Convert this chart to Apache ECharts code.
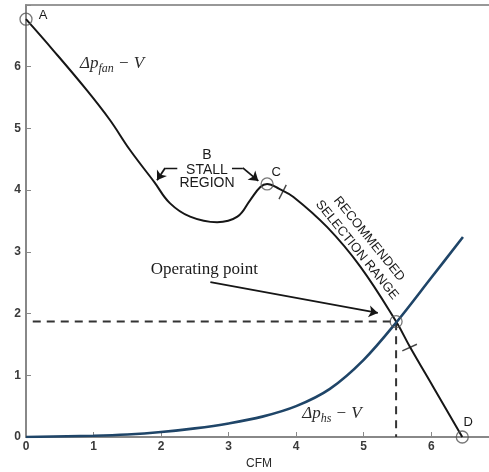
<!DOCTYPE html>
<html>
<head>
<meta charset="utf-8">
<script src="https://cdn.jsdelivr.net/npm/echarts@6/dist/echarts.min.js"></script>
<style>
html, body { margin: 0; padding: 0; background: #fff; }
#chart { width: 489px; height: 472px; }
</style>
</head>
<body>
<div id="chart"></div>
<script>
// fan curve (dp_fan - V)
const fanX = [0, 0.4, 0.9, 1.24, 1.54, 1.9, 2.13, 2.43, 2.83, 3.13, 3.32, 3.47, 3.57, 3.75, 3.96, 4.46, 4.95, 5.48, 5.69, 6.03, 6.46];
const fanY = [6.77, 6.27, 5.62, 5.14, 4.65, 4.13, 3.79, 3.57, 3.48, 3.57, 3.84, 4.05, 4.1, 4.02, 3.89, 3.4, 2.76, 1.87, 1.45, 0.81, 0];
// system curve (dp_hs - V)
const sysX = [0, 1, 1.5, 2, 2.5, 3, 3.5, 4, 4.5, 5, 5.5, 6, 6.47];
const sysY = [0, 0.02, 0.04, 0.08, 0.14, 0.22, 0.33, 0.5, 0.78, 1.25, 1.88, 2.58, 3.24];
// labelled points A, C, operating point, D
const pointNames = ["A", "C", "", "D"];
const pointX = [0, 3.57, 5.48, 6.46];
const pointY = [6.77, 4.1, 1.87, 0];
// limits of the recommended selection range
const rangeX = [3.8, 5.68];
const rangeY = [3.97, 1.45];
const xTicks = [0, 1, 2, 3, 4, 5, 6];
const yTicks = [0, 1, 2, 3, 4, 5, 6];

const opX = pointX[2];
const opY = pointY[2];
const ink = "#161616";
const serif = "Liberation Serif, DejaVu Serif, serif";
const sans = "Liberation Sans, Arial, sans-serif";

// pixel offsets of the point letters from their circles
const pointLabelOffset = [[17, -4], [9, -12], [0, 0], [6, -15]];
const slashRotate = [-27, -66];

const chart = echarts.init(document.getElementById("chart"));

const tickLabel = { color: "#3a3a3a", fontSize: 12, fontWeight: "bold", fontFamily: sans };

const option = {
  animation: false,
  grid: {
    left: 26,
    top: 5,
    right: -3,
    bottom: 35,
    show: true,
    borderColor: "#777",
    borderWidth: 1.5,
    outerBoundsMode: "none",
  },
  xAxis: {
    type: "value",
    min: 0,
    max: 6.9,
    interval: 1,
    name: "CFM",
    nameLocation: "middle",
    nameGap: 20,
    nameTextStyle: { color: "#2a2a2a", fontSize: 12, fontFamily: sans },
    axisLine: { lineStyle: { color: "#888", width: 2 } },
    axisTick: { inside: true, length: 5, lineStyle: { color: "#888" } },
    axisLabel: Object.assign({
      margin: 4,
      showMaxLabel: false,
      formatter: (v) => (xTicks.includes(v) ? String(v) : ""),
    }, tickLabel),
    splitLine: { show: false },
  },
  yAxis: {
    type: "value",
    min: 0,
    max: 7,
    interval: 1,
    axisLine: { show: true, lineStyle: { color: "#888", width: 2 } },
    axisTick: { show: true, inside: true, length: 5, lineStyle: { color: "#888" } },
    axisLabel: Object.assign({
      margin: 5,
      formatter: (v) => (yTicks.includes(v) ? String(v) : ""),
    }, tickLabel),
    splitLine: { show: false },
  },
  series: [
    {
      name: "fan",
      type: "line",
      smooth: 0.4,
      showSymbol: false,
      lineStyle: { color: ink, width: 2 },
      data: fanX.map((x, i) => [x, fanY[i]]),
      z: 3,
    },
    {
      name: "system",
      type: "line",
      smooth: 0.35,
      showSymbol: false,
      lineStyle: { color: "#1f4568", width: 2.6 },
      data: sysX.map((x, i) => [x, sysY[i]]),
      z: 3,
    },
    {
      name: "guides",
      type: "line",
      showSymbol: false,
      lineStyle: { color: "#333", width: 2, type: [8, 6] },
      data: [[0.1, opY], [opX, opY], [opX, 0]],
      z: 2,
    },
    {
      name: "points",
      type: "scatter",
      symbol: "circle",
      symbolSize: 12,
      itemStyle: { color: "rgba(0,0,0,0)", borderColor: "#555", borderWidth: 1.3 },
      data: pointX.map((x, i) => [x, pointY[i]]),
      z: 4,
    },
    {
      name: "range",
      type: "scatter",
      symbol: "rect",
      symbolSize: [1.4, 16],
      itemStyle: { color: ink },
      data: rangeX.map((x, i) => ({ value: [x, rangeY[i]], symbolRotate: slashRotate[i] })),
      z: 4,
    },
    {
      name: "arrows",
      type: "lines",
      coordinateSystem: "cartesian2d",
      symbol: ["none", "arrow"],
      symbolSize: 9,
      lineStyle: { color: ink, width: 1.8, opacity: 1 },
      data: [
        { coords: [[2.73, 2.51], [5.21, 2.01]] },
        { coords: [[2.06, 4.36], [1.94, 4.16]] },
        { coords: [[3.21, 4.36], [3.44, 4.15]] },
      ],
      z: 4,
    },
    {
      name: "brackets",
      type: "lines",
      coordinateSystem: "cartesian2d",
      symbol: "none",
      lineStyle: { color: ink, width: 1.3, opacity: 1 },
      data: [
        { coords: [[2.24, 4.36], [2.06, 4.36]] },
        { coords: [[3.05, 4.36], [3.21, 4.36]] },
      ],
      z: 4,
    },
  ],
};
chart.setOption(option);

// text annotations placed through the axes
const notes = [
  { at: [2.64, 2.71], text: "Operating point", font: { fontFamily: serif, fontSize: 17 }, align: "center" },
  { at: [0.8, 6.08], text: "{a|Δp}{s|fan}{a| − V}", align: "left" },
  { at: [4.09, 0.41], text: "{a|Δp}{s|hs}{a| − V}", align: "left" },
  { at: [2.68, 4.57], text: "B", align: "center", font: { fontSize: 14 } },
  { at: [2.68, 4.33], text: "STALL", align: "center", font: { fontSize: 14 } },
  { at: [2.68, 4.11], text: "REGION", align: "center", font: { fontSize: 14 } },
  { at: [5.08, 3.21], text: "RECOMMENDED", align: "center", rot: -51 },
  { at: [4.9, 3.03], text: "SELECTION RANGE", align: "center", rot: -51 },
];
pointNames.forEach((name, i) => {
  if (name) {
    notes.push({ at: [pointX[i], pointY[i]], text: name, align: "center", off: pointLabelOffset[i], font: { fontSize: 13 } });
  }
});
const rich = {
  a: { fontFamily: serif, fontStyle: "italic", fontSize: 17, fill: "#2a2a2a", lineHeight: 20, verticalAlign: "bottom" },
  s: { fontFamily: serif, fontStyle: "italic", fontSize: 12, fill: "#2a2a2a", lineHeight: 20, verticalAlign: "bottom", padding: [0, 0, -3, 0] },
};
chart.setOption({
  graphic: notes.map((n) => {
    const p = chart.convertToPixel({ xAxisIndex: 0, yAxisIndex: 0 }, n.at);
    const off = n.off || [0, 0];
    return {
      type: "text",
      x: p[0] + off[0],
      y: p[1] + off[1],
      rotation: ((n.rot || 0) * Math.PI) / 180,
      z: 10,
      style: Object.assign(
        {
          text: n.text,
          fill: "#1a1a1a",
          fontFamily: sans,
          fontSize: 13,
          align: n.align,
          verticalAlign: "middle",
          rich: rich,
        },
        n.font || {}
      ),
    };
  }),
});
</script>
</body>
</html>
